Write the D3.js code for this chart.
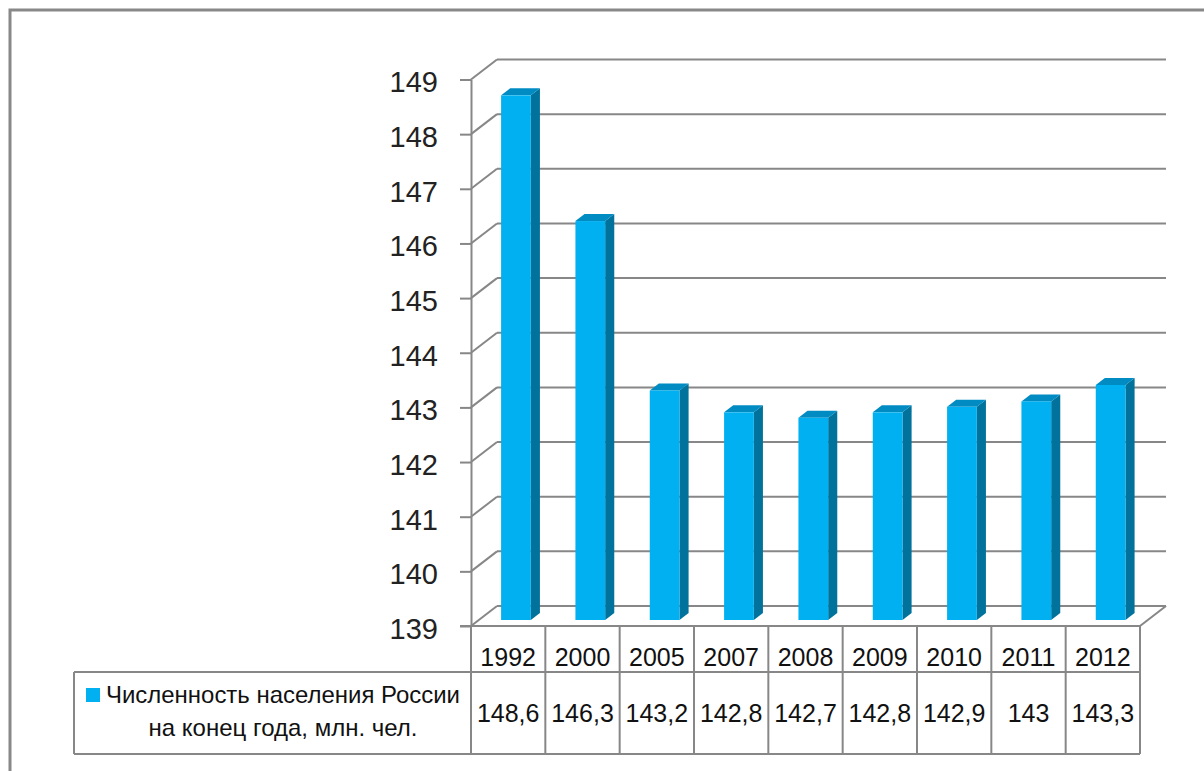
<!DOCTYPE html>
<html>
<head>
<meta charset="utf-8">
<script src="https://cdn.jsdelivr.net/npm/d3@7"></script>
<style>
  body { margin: 0; background: #fff; }
  svg { display: block; font-family: "Liberation Sans", Arial, sans-serif; }
</style>
</head>
<body>
<svg width="1204" height="771"></svg>
<script>
var years = ["1992", "2000", "2005", "2007", "2008", "2009", "2010", "2011", "2012"];
var population = [148.6, 146.3, 143.2, 142.8, 142.7, 142.8, 142.9, 143, 143.3];
var yTicks = [139, 140, 141, 142, 143, 144, 145, 146, 147, 148, 149];
var seriesName = ["Численность населения России", "на конец года, млн. чел."];

var svg = d3.select("svg");
var gridColor = "#878787";

// plot box (front plane)
var plotLeft = 471, plotRight = 1140, plotTop = 79.5, plotBottom = 626;
// depth of the 3d box
var depth = {x: 26, y: -20};

var x = d3.scaleBand().domain(years).range([plotLeft, plotRight]);
var y = d3.scaleLinear().domain([139, 149]).range([plotBottom, plotTop]);

// chart border
svg.append("rect")
    .attr("x", 10).attr("y", 10)
    .attr("width", 1220).attr("height", 800)
    .attr("fill", "none")
    .attr("stroke", "#888")
    .attr("stroke-width", 3);

var grid = svg.append("g");

// back wall gridlines
grid.selectAll(".back")
  .data(yTicks)
  .enter().append("line")
    .attr("x1", plotLeft + depth.x).attr("x2", plotRight + depth.x)
    .attr("y1", function(d) { return y(d) + depth.y; })
    .attr("y2", function(d) { return y(d) + depth.y; })
    .attr("stroke", gridColor).attr("stroke-width", 2);

// side wall diagonals
grid.selectAll(".side")
  .data(yTicks)
  .enter().append("line")
    .attr("x1", plotLeft).attr("x2", plotLeft + depth.x)
    .attr("y1", function(d) { return y(d); })
    .attr("y2", function(d) { return y(d) + depth.y; })
    .attr("stroke", gridColor).attr("stroke-width", 2);

// floor right edge
grid.append("line")
    .attr("x1", plotRight).attr("y1", plotBottom)
    .attr("x2", plotRight + depth.x).attr("y2", plotBottom + depth.y)
    .attr("stroke", gridColor).attr("stroke-width", 2);

// bars
var barFront = 0.3, barDepth = 0.35;
var bw = x.bandwidth() * 0.4;
var bdx = depth.x * barDepth, bdy = depth.y * barDepth;

var bars = svg.append("g").selectAll("g")
  .data(years)
  .enter().append("g")
    .attr("transform", "translate(" + (depth.x * barFront) + "," + (depth.y * barFront) + ")");

bars.each(function(d, i) {
  var g = d3.select(this);
  var x0 = x(d) + (x.bandwidth() - bw) / 2;
  var x1 = x0 + bw;
  var yt = y(population[i]), yb = y(139);

  // side
  g.append("path")
      .attr("d", "M" + x1 + "," + yt + "L" + (x1 + bdx) + "," + (yt + bdy) +
                 "L" + (x1 + bdx) + "," + (yb + bdy) + "L" + x1 + "," + yb + "Z")
      .attr("fill", "#00729c");
  // top
  g.append("path")
      .attr("d", "M" + x0 + "," + yt + "L" + (x0 + bdx) + "," + (yt + bdy) +
                 "L" + (x1 + bdx) + "," + (yt + bdy) + "L" + x1 + "," + yt + "Z")
      .attr("fill", "#008bc3");
  // front
  g.append("rect")
      .attr("x", x0).attr("y", yt)
      .attr("width", bw).attr("height", yb - yt)
      .attr("fill", "#00b0f0");
});

// value axis
var yAxis = svg.append("g")
    .attr("transform", "translate(" + plotLeft + ",0)")
    .call(d3.axisLeft(y).tickValues(yTicks).tickSize(11).tickSizeOuter(0).tickPadding(22));

yAxis.select(".domain").attr("stroke", gridColor).attr("stroke-width", 2);
yAxis.selectAll(".tick line").attr("stroke", gridColor).attr("stroke-width", 2);
yAxis.selectAll(".tick text")
    .attr("font-size", 29)
    .attr("font-family", "Liberation Sans, Arial, sans-serif")
    .attr("fill", "#222")
    .attr("dy", "0.43em");

// data table
var rowTop = plotBottom, rowMid = 672, rowBot = 754, legendLeft = 74;
var table = svg.append("g").attr("stroke", gridColor).attr("stroke-width", 2);

table.append("line").attr("x1", plotLeft - 11).attr("x2", plotRight).attr("y1", rowTop).attr("y2", rowTop);
table.append("line").attr("x1", legendLeft).attr("x2", plotRight).attr("y1", rowMid).attr("y2", rowMid);
table.append("line").attr("x1", legendLeft).attr("x2", plotRight).attr("y1", rowBot).attr("y2", rowBot);
table.append("line").attr("x1", legendLeft).attr("x2", legendLeft).attr("y1", rowMid).attr("y2", rowBot);

table.selectAll(".col")
  .data(years.concat(["end"]))
  .enter().append("line")
    .attr("x1", function(d, i) { return plotLeft + i * x.step(); })
    .attr("x2", function(d, i) { return plotLeft + i * x.step(); })
    .attr("y1", rowTop).attr("y2", rowBot);

svg.append("g").selectAll("text")
  .data(years)
  .enter().append("text")
    .attr("x", function(d) { return x(d) + x.bandwidth() / 2; })
    .attr("y", 665.5)
    .attr("text-anchor", "middle")
    .attr("font-size", 25)
    .attr("fill", "#111")
    .text(function(d) { return d; });

svg.append("g").selectAll("text")
  .data(population)
  .enter().append("text")
    .attr("x", function(d, i) { return x(years[i]) + x.bandwidth() / 2; })
    .attr("y", 721.5)
    .attr("text-anchor", "middle")
    .attr("font-size", 25)
    .attr("fill", "#111")
    .text(function(d) { return String(d).replace(".", ","); });

// legend key + series name
svg.append("rect")
    .attr("x", 86).attr("y", 688)
    .attr("width", 14).attr("height", 14)
    .attr("fill", "#00b0f0");

svg.append("text")
    .attr("x", 106).attr("y", 703)
    .attr("font-size", 24)
    .attr("fill", "#111")
    .attr("textLength", 354)
    .attr("lengthAdjust", "spacingAndGlyphs")
    .text(seriesName[0]);

svg.append("text")
    .attr("x", 283).attr("y", 736)
    .attr("text-anchor", "middle")
    .attr("font-size", 24)
    .attr("fill", "#111")
    .text(seriesName[1]);
</script>
</body>
</html>
